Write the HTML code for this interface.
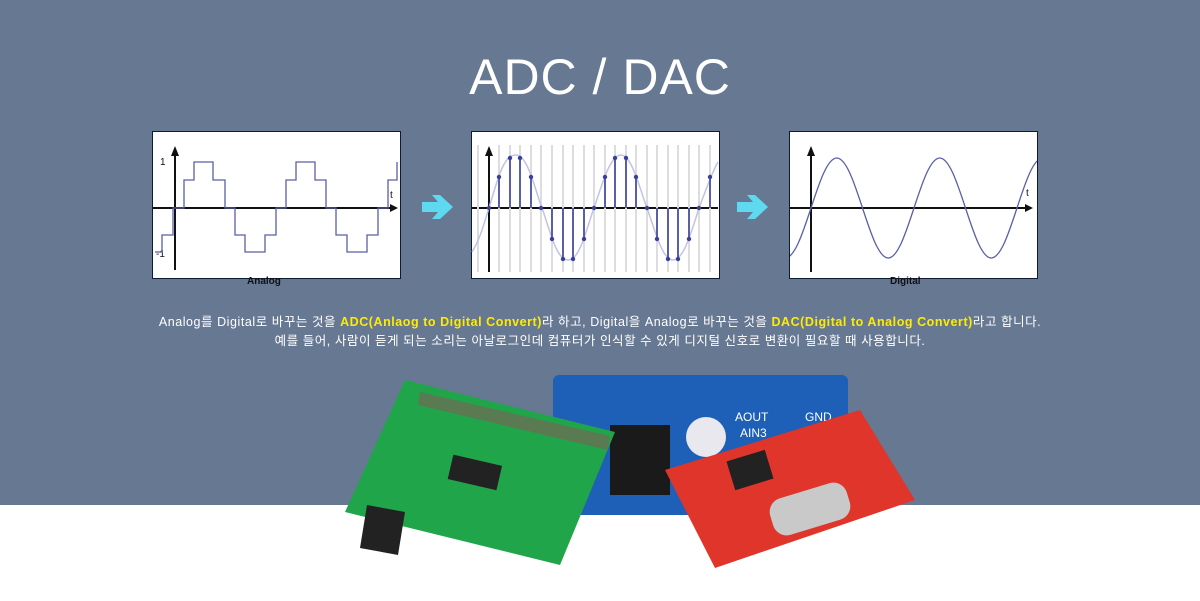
<!DOCTYPE html>
<html><head><meta charset="utf-8"><style>
body{margin:0;width:1200px;height:601px;overflow:hidden;background:#fff;font-family:"Liberation Sans","Noto Sans CJK KR",sans-serif;position:relative}
.top{position:absolute;left:0;top:0;width:1200px;height:505px;background:#677892}
h1{position:absolute;left:0;width:1200px;top:48px;margin:0;text-align:center;color:#fff;font-weight:normal;font-size:50px;letter-spacing:1px}
.p{position:absolute;top:131px;width:247px;height:146px;background:#fff;border:1px solid #0c1a33}
.txt{position:absolute;left:0;width:1200px;text-align:center;color:#fff;font-size:12.5px;letter-spacing:0.55px;white-space:nowrap}
.y{color:#ffec00;font-weight:bold}
svg{position:absolute;left:0;top:0}
</style></head><body>
<div class="top"></div>
<h1>ADC / DAC</h1>
<div class="p" style="left:152px"></div>
<div class="p" style="left:471px"></div>
<div class="p" style="left:789px"></div>
<svg width="1200" height="601">
<defs><clipPath id="c3"><rect x="790" y="132" width="247" height="146"/></clipPath></defs>
<g stroke="#111" stroke-width="2" fill="#111">
<line x1="153" y1="208" x2="395" y2="208"/><line x1="175" y1="270" x2="175" y2="150"/>
<line x1="472" y1="208" x2="718" y2="208"/><line x1="489" y1="272" x2="489" y2="148"/>
<line x1="790" y1="208" x2="1030" y2="208"/><line x1="811" y1="272" x2="811" y2="148"/>
<polygon points="175,146 171,156 179,156" stroke="none"/><polygon points="398,208 390,204 390,212" stroke="none"/>
<polygon points="489,146 485,156 493,156" stroke="none"/>
<polygon points="811,146 807,156 815,156" stroke="none"/><polygon points="1033,208 1025,204 1025,212" stroke="none"/>
</g>
<g font-size="10" fill="#111"><text x="160" y="165">1</text><text x="156" y="257">-1</text><text x="390" y="198">t</text><text x="1026" y="196">t</text></g>
<path d="M155,252 H162 V235 H173 V208 H184 V180 H194 V162 H213 V180 H225 V208 H235 V235 H245 V252 H265 V235 H276 V208 H286 V180 H296 V162 H315 V180 H326 V208 H336 V235 H347 V252 H367 V235 H378 V208 H388 V180 H397 V162" fill="none" stroke="#5a5fa8" stroke-width="1.3"/>
<g stroke="#ddd" stroke-width="2">
<line x1="478" y1="145" x2="478" y2="272"/><line x1="499" y1="145" x2="499" y2="272"/><line x1="510" y1="145" x2="510" y2="272"/><line x1="520" y1="145" x2="520" y2="272"/><line x1="531" y1="145" x2="531" y2="272"/><line x1="541" y1="145" x2="541" y2="272"/><line x1="552" y1="145" x2="552" y2="272"/><line x1="563" y1="145" x2="563" y2="272"/><line x1="573" y1="145" x2="573" y2="272"/><line x1="584" y1="145" x2="584" y2="272"/><line x1="594" y1="145" x2="594" y2="272"/><line x1="605" y1="145" x2="605" y2="272"/><line x1="615" y1="145" x2="615" y2="272"/><line x1="626" y1="145" x2="626" y2="272"/><line x1="636" y1="145" x2="636" y2="272"/><line x1="647" y1="145" x2="647" y2="272"/><line x1="657" y1="145" x2="657" y2="272"/><line x1="668" y1="145" x2="668" y2="272"/><line x1="678" y1="145" x2="678" y2="272"/><line x1="689" y1="145" x2="689" y2="272"/><line x1="699" y1="145" x2="699" y2="272"/><line x1="710" y1="145" x2="710" y2="272"/>
</g>
<path d="M472,252 C480,240 485,220 489,208 C500,170 505,155 516,155 C528,155 535,190 542,208 C550,230 556,260 568,260 C580,260 586,230 594,208 C602,185 610,155 621,155 C632,155 640,190 647,208 C655,230 662,260 673,260 C684,260 692,230 699,208 C706,190 712,172 718,162" fill="none" stroke="#c0c3e6" stroke-width="1.5"/>
<g stroke="#5a5fa8" stroke-width="2">
<line x1="499" y1="208" x2="499" y2="177"/><line x1="510" y1="208" x2="510" y2="158"/><line x1="520" y1="208" x2="520" y2="158"/><line x1="531" y1="208" x2="531" y2="177"/><line x1="552" y1="208" x2="552" y2="239"/><line x1="563" y1="208" x2="563" y2="259"/><line x1="573" y1="208" x2="573" y2="259"/><line x1="584" y1="208" x2="584" y2="239"/><line x1="605" y1="208" x2="605" y2="177"/><line x1="615" y1="208" x2="615" y2="158"/><line x1="626" y1="208" x2="626" y2="158"/><line x1="636" y1="208" x2="636" y2="177"/><line x1="657" y1="208" x2="657" y2="239"/><line x1="668" y1="208" x2="668" y2="259"/><line x1="678" y1="208" x2="678" y2="259"/><line x1="689" y1="208" x2="689" y2="239"/><line x1="710" y1="208" x2="710" y2="177"/>
</g>
<g fill="#3a3f98">
<circle cx="489" cy="208" r="2.2"/><circle cx="499" cy="177" r="2.2"/><circle cx="510" cy="158" r="2.2"/><circle cx="520" cy="158" r="2.2"/><circle cx="531" cy="177" r="2.2"/><circle cx="541" cy="208" r="2.2"/><circle cx="552" cy="239" r="2.2"/><circle cx="563" cy="259" r="2.2"/><circle cx="573" cy="259" r="2.2"/><circle cx="584" cy="239" r="2.2"/><circle cx="594" cy="208" r="2.2"/><circle cx="605" cy="177" r="2.2"/><circle cx="615" cy="158" r="2.2"/><circle cx="626" cy="158" r="2.2"/><circle cx="636" cy="177" r="2.2"/><circle cx="647" cy="208" r="2.2"/><circle cx="657" cy="239" r="2.2"/><circle cx="668" cy="259" r="2.2"/><circle cx="678" cy="259" r="2.2"/><circle cx="689" cy="239" r="2.2"/><circle cx="699" cy="208" r="2.2"/><circle cx="710" cy="177" r="2.2"/>
</g>
<path clip-path="url(#c3)" d="M785.25,258 C794.57,258 802.6,233.6 811,208 C819.4,182.4 827.43,158 836.75,158 S854.1,182.4 862.5,208 S878.93,258 888.25,258 S905.6,233.6 914,208 S930.43,158 939.75,158 S957.1,182.4 965.5,208 S981.93,258 991.25,258 S1008.6,233.6 1017,208 S1033.43,158 1042.75,158" fill="none" stroke="#5a5fa8" stroke-width="1.3"/>
<polygon points="422,202 438,202 432,195 440,195 453,207 440,219 432,219 438,212 422,212" fill="#5fd9ef"/>
<polygon points="737,202 753,202 747,195 755,195 768,207 755,219 747,219 753,212 737,212" fill="#5fd9ef"/>
<text x="247" y="284" font-size="10" font-weight="bold" fill="#111">Analog</text>
<text x="890" y="284" font-size="10" font-weight="bold" fill="#111">Digital</text>
<rect x="553" y="375" width="295" height="140" rx="6" fill="#1e5fb8"/>
<rect x="610" y="425" width="60" height="70" fill="#1a1a1a"/>
<circle cx="706" cy="437" r="20" fill="#e8e8ee"/>
<text x="735" y="421" font-size="12" fill="#fff">AOUT</text><text x="740" y="437" font-size="12" fill="#fff">AIN3</text>
<text x="805" y="421" font-size="12" fill="#fff">GND</text>
<polygon points="405,380 615,432 560,565 345,512" fill="#21a54a"/>
<polygon points="420,392 610,436 608,450 418,405" fill="#5a7a52"/>
<rect x="450" y="460" width="50" height="25" fill="#222" transform="rotate(13 475 472)"/>
<polygon points="367,505 405,512 398,555 360,548" fill="#222"/>
<polygon points="665,470 860,410 915,500 715,568" fill="#e0352b"/>
<rect x="770" y="490" width="80" height="38" rx="14" fill="#c9c9c9" transform="rotate(-17 810 509)"/>
<rect x="730" y="455" width="40" height="30" fill="#222" transform="rotate(-17 750 470)"/>
</svg>
<div class="txt" style="top:311px">Analog를 Digital로 바꾸는 것을 <span class="y">ADC(Anlaog to Digital Convert)</span>라 하고, Digital을 Analog로 바꾸는 것을 <span class="y">DAC(Digital to Analog Convert)</span>라고 합니다.</div>
<div class="txt" style="top:330px">예를 들어, 사람이 듣게 되는 소리는 아날로그인데 컴퓨터가 인식할 수 있게 디지털 신호로 변환이 필요할 때 사용합니다.</div>
</body></html>
